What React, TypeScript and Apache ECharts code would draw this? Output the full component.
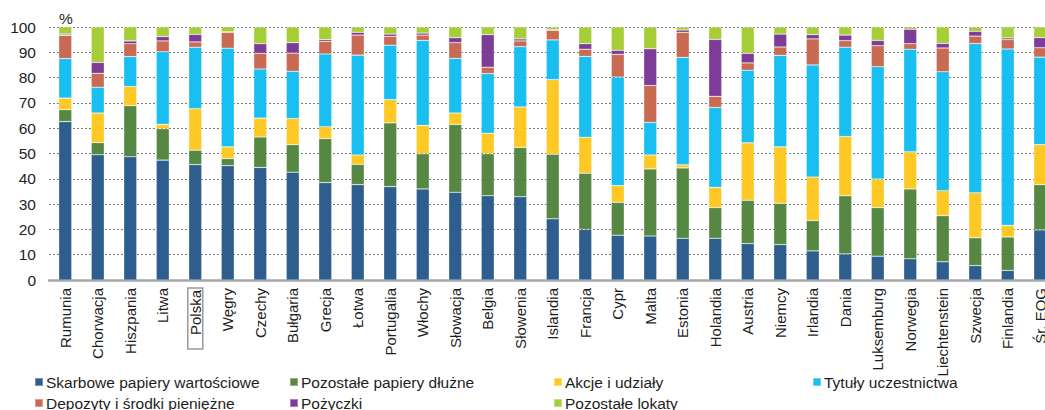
import React, { useEffect, useRef } from "react";
import * as echarts from "echarts";

const categories = [
  "Rumunia", "Chorwacja", "Hiszpania", "Litwa", "Polska", "Węgry", "Czechy", "Bułgaria",
  "Grecja", "Łotwa", "Portugalia", "Włochy", "Słowacja", "Belgia", "Słowenia", "Islandia",
  "Francja", "Cypr", "Malta", "Estonia", "Holandia", "Austria", "Niemcy", "Irlandia",
  "Dania", "Luksemburg", "Norwegia", "Liechtenstein", "Szwecja", "Finlandia", "Śr. EOG",
];

const skarbowe = [62.6, 49.5, 48.7, 47.4, 45.6, 45.2, 44.5, 42.6, 38.5, 37.7, 36.9, 36.0, 34.7, 33.3, 32.9, 24.2, 20.0, 17.7, 17.4, 16.5, 16.5, 14.4, 14.0, 11.5, 10.3, 9.4, 8.4, 7.2, 5.7, 3.8, 19.8];
const pozostalePapiery = [4.7, 4.8, 20.2, 12.4, 5.7, 2.8, 12.0, 10.9, 17.4, 8.0, 25.2, 13.9, 26.8, 16.6, 19.5, 25.5, 22.2, 13.0, 26.5, 27.8, 12.1, 17.1, 16.3, 12.0, 23.0, 19.2, 27.6, 18.2, 11.0, 13.2, 17.9];
const akcje = [4.6, 11.7, 7.6, 1.7, 16.4, 4.6, 7.5, 10.3, 4.7, 3.7, 9.2, 11.2, 4.5, 8.1, 16.0, 29.5, 14.2, 6.6, 5.5, 1.2, 8.0, 22.7, 22.3, 17.2, 23.4, 11.3, 14.7, 9.9, 17.8, 4.6, 15.8];
const tytuly = [15.6, 10.2, 11.8, 28.7, 24.3, 39.0, 19.4, 18.7, 28.7, 39.5, 21.5, 33.6, 21.6, 23.6, 23.8, 15.7, 32.0, 42.9, 12.9, 42.5, 31.6, 28.7, 36.2, 44.3, 35.3, 44.4, 40.5, 47.0, 59.0, 69.7, 34.6];
const depozyty = [9.2, 5.5, 5.1, 4.3, 2.1, 6.3, 6.2, 7.2, 5.0, 7.9, 3.5, 2.1, 6.2, 2.5, 2.3, 3.8, 2.8, 9.0, 14.6, 9.9, 4.4, 2.9, 3.3, 10.3, 2.6, 8.3, 2.2, 9.4, 2.9, 3.7, 3.7];
const pozyczki = [0.5, 4.3, 1.1, 1.7, 3.0, 0.2, 3.8, 4.1, 0.7, 1.1, 0.9, 0.8, 2.0, 12.9, 0.8, 0.3, 2.2, 1.6, 14.5, 0.9, 22.5, 3.8, 5.1, 1.7, 2.2, 2.1, 5.7, 1.8, 1.9, 0.7, 4.0];
const pozostaleLokaty = [2.8, 14.0, 5.5, 3.8, 2.9, 2.0, 6.6, 6.2, 5.0, 2.1, 2.8, 2.4, 4.2, 3.0, 4.7, 1.0, 6.6, 9.2, 8.6, 1.2, 4.9, 10.4, 2.8, 3.0, 3.2, 5.3, 0.9, 6.5, 1.7, 4.3, 4.2];

const seriesDefs = [
  { name: "Skarbowe papiery wartościowe", data: skarbowe, color: "#2D5E8E" },
  { name: "Pozostałe papiery dłużne", data: pozostalePapiery, color: "#568844" },
  { name: "Akcje i udziały", data: akcje, color: "#FEC925" },
  { name: "Tytuły uczestnictwa", data: tytuly, color: "#18BFF0" },
  { name: "Depozyty i środki pieniężne", data: depozyty, color: "#C96A52" },
  { name: "Pożyczki", data: pozyczki, color: "#7D3C98" },
  { name: "Pozostałe lokaty", data: pozostaleLokaty, color: "#A6CE39" },
];

const legendPos = [
  { left: 34, top: 374 },
  { left: 289, top: 374 },
  { left: 553, top: 374 },
  { left: 812, top: 374 },
  { left: 34, top: 395 },
  { left: 289, top: 395 },
  { left: 553, top: 395 },
];

const FONT = "'Liberation Sans', Arial, sans-serif";

export default function App() {
  const ref = useRef<HTMLDivElement>(null);
  useEffect(() => {
    if (!ref.current) return;
    const chart = echarts.init(ref.current, undefined, { renderer: "svg" });
    chart.setOption({
      animation: false,
      textStyle: { fontFamily: FONT },
      grid: {
        left: 49,
        top: 27,
        height: 253,
        width: 31 * 32.5,
        containLabel: false,
        outerBoundsMode: "none",
      },
      xAxis: {
        type: "category",
        data: categories,
        axisLine: { show: true, lineStyle: { color: "#A6A6A6", width: 2.5 } },
        axisTick: { show: false },
        axisLabel: {
          interval: 0,
          rotate: 90,
          margin: 8,
          fontSize: 15,
          color: "#1e1e1e",
          fontFamily: FONT,
          formatter: (v: string) => (v === "Polska" ? `{box|${v}}` : v),
          rich: {
            box: {
              fontSize: 15,
              color: "#1e1e1e",
              fontFamily: FONT,
              borderColor: "#9a9a9a",
              borderWidth: 1.5,
              padding: [0, 2, 0, 14],
            },
          },
        },
      },
      yAxis: {
        type: "value",
        min: 0,
        max: 100,
        interval: 10,
        axisLine: { show: false },
        axisTick: { show: false },
        axisLabel: { fontSize: 15.5, color: "#1e1e1e", margin: 13, fontFamily: FONT },
        splitLine: { lineStyle: { color: "#7a7a7a", type: [2, 2], width: 1 } },
      },
      legend: seriesDefs.map((s, i) => ({
        data: [s.name],
        left: legendPos[i].left,
        top: legendPos[i].top,
        padding: 0,
        icon: "rect",
        itemWidth: 8,
        itemHeight: 8,
        selectedMode: false,
        textStyle: { fontSize: 15.5, color: "#1e1e1e", fontFamily: FONT, padding: [0, 0, 0, -2] },
      })),
      graphic: [
        {
          type: "text",
          left: 59,
          top: 10,
          style: { text: "%", fontSize: 15.5, fill: "#1e1e1e", fontFamily: FONT },
        },
      ],
      series: seriesDefs.map((s) => ({
        name: s.name,
        type: "bar",
        stack: "total",
        barWidth: 13,
        data: s.data,
        itemStyle: { color: s.color, borderColor: "rgba(255,255,255,0.35)", borderWidth: 0.6 },
      })),
    });
    return () => chart.dispose();
  }, []);
  return (
    <div
      ref={ref}
      style={{ position: "absolute", left: 0, top: 0, width: 1045, height: 410 }}
    />
  );
}
